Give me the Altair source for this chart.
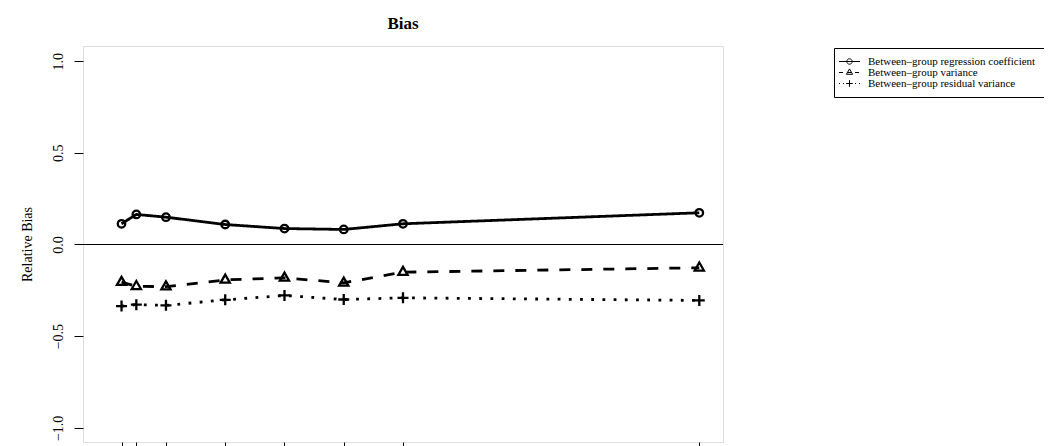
import altair as alt
import pandas as pd

# ---- data ----
sample_sizes = [5, 10, 20, 40, 60, 80, 100, 200]
series_names = [
    "Between–group regression coefficient",
    "Between–group variance",
    "Between–group residual variance",
]
coef_bias = [0.113, 0.164, 0.149, 0.109, 0.087, 0.082, 0.113, 0.173]
var_bias = [-0.205, -0.228, -0.230, -0.193, -0.182, -0.209, -0.151, -0.127]
resid_bias = [-0.336, -0.328, -0.332, -0.302, -0.278, -0.300, -0.291, -0.305]
y_ticks = [-1.0, -0.5, 0.0, 0.5, 1.0]

rows = []
for name, vals in zip(series_names, [coef_bias, var_bias, resid_bias]):
    for x, v in zip(sample_sizes, vals):
        rows.append({"n": x, "bias": v, "series": name})
df = pd.DataFrame(rows)
zero_df = pd.DataFrame({"y0": [0.0]})

SERIF = "Liberation Serif"

x_scale = alt.Scale(domain=[-8, 208], nice=False, zero=False)
y_scale = alt.Scale(domain=[-1.0773, 1.0827], nice=False, zero=False)

x_enc = alt.X(
    "n:Q",
    scale=x_scale,
    axis=alt.Axis(
        values=sample_sizes, title=None, grid=False, domain=False,
        tickSize=9, tickColor="black", tickWidth=1, labels=False,
    ),
)
y_enc = alt.Y(
    "bias:Q",
    scale=y_scale,
    axis=alt.Axis(
        values=y_ticks, format=".1f", grid=False, domain=False,
        tickSize=9, tickColor="black", tickWidth=1,
        labelFont=SERIF, labelFontSize=14, labelColor="black",
        labelAngle=270, labelAlign="center", labelBaseline="alphabetic",
        labelPadding=12, labelFlush=False, labelOverlap=False,
        title="Relative Bias", titleFont=SERIF, titleFontSize=14,
        titleFontWeight="normal", titleColor="black",
        titleAngle=270, titleAlign="center", titleBaseline="alphabetic",
        titleX=-52, titleY=198,
    ),
)

zero_line = alt.Chart(zero_df).mark_rule(color="black", strokeWidth=1).encode(
    y=alt.Y("y0:Q", scale=y_scale)
)

lines = alt.Chart(df).mark_line(color="black", strokeWidth=2.8, strokeCap="butt").encode(
    x=x_enc,
    y=y_enc,
    detail="series:N",
    strokeDash=alt.StrokeDash(
        "series:N",
        scale=alt.Scale(domain=series_names, range=[[1, 0], [11, 11], [2.8, 8.4]]),
        legend=None,
    ),
)

marker_paths = [
    "M0.75,0A0.75,0.75,0,1,1,-0.75,0A0.75,0.75,0,1,1,0.75,0",
    "M0,-1.05L0.92,0.55L-0.92,0.55Z",
    "M-1.1,0H1.1M0,-1.1V1.1",
]
points = alt.Chart(df).mark_point(
    filled=False, color="black", strokeWidth=2.3, size=100, opacity=1
).encode(
    x="n:Q",
    y="bias:Q",
    shape=alt.Shape(
        "series:N",
        scale=alt.Scale(domain=series_names, range=marker_paths),
        legend=None,
    ),
)

legend_paths = [
    "M-3.5,0H3.5M0.9,0A0.9,0.9,0,1,1,-0.9,0A0.9,0.9,0,1,1,0.9,0",
    "M-3.5,0H-2.17M-0.83,0H0.5M1.83,0H3.17M0,-1.2L1.04,0.6L-1.04,0.6Z",
    "M-3.5,0h0.33M-2.17,0h0.33M-0.83,0h0.33M0.5,0h0.33M1.83,0h0.33M3.17,0h0.33"
    "M-1.1,0H1.1M0,-1.1V1.1",
]
legend_layer = alt.Chart(df).mark_point(
    filled=False, color="black", strokeWidth=1, opacity=1
).encode(
    shape=alt.Shape(
        "series:N",
        scale=alt.Scale(domain=series_names, range=legend_paths),
        legend=alt.Legend(
            title=None, orient="none", legendX=751, legendY=2,
            labelFont=SERIF, labelFontSize=11, labelColor="black",
            labelLimit=400, labelOffset=13,
            symbolSize=36, symbolStrokeWidth=1, symbolStrokeColor="black",
            symbolFillColor="transparent", symbolOffset=2,
            strokeColor="black", fillColor="white", padding=8,
            rowPadding=-1, cornerRadius=0,
        ),
    ),
).transform_filter("false")

chart = (
    alt.layer(zero_line, lines, points, legend_layer)
    .resolve_scale(shape="independent")
    .properties(
        width=640,
        height=396,
        autosize=alt.AutoSizeParams(type="none"),
        padding={"left": 75, "top": 38, "right": 321, "bottom": 4},
        title=alt.TitleParams(
            text="Bias", font=SERIF, fontSize=17, fontWeight="bold",
            color="black", anchor="middle", frame="group",
            baseline="alphabetic", offset=19, dy=19,
        ),
    )
    .configure_view(stroke="black", strokeWidth=1)
    .configure(background="white")
)

chart.save("out.html", embed_options={"renderer": "svg", "actions": False})
